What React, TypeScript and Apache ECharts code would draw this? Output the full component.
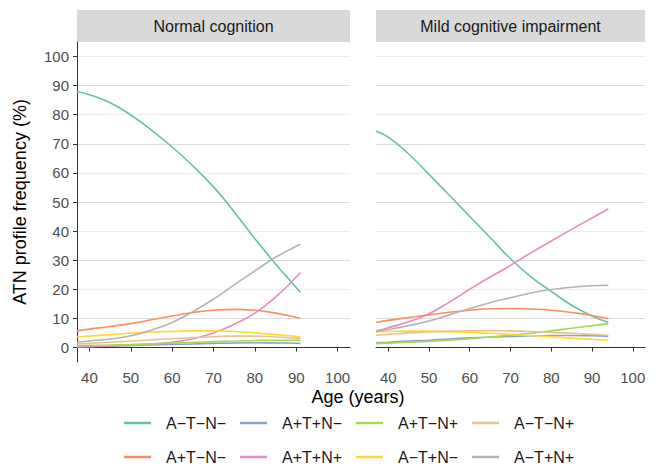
import React, { useEffect, useRef } from "react";
import * as echarts from "echarts";

const panelTitles = ["Normal cognition", "Mild cognitive impairment"];
const profiles = ["A−T−N−", "A+T−N−", "A+T+N−", "A+T+N+", "A+T−N+", "A−T+N−", "A−T−N+", "A−T+N+"];
const colors = ["#66C2A5", "#FC8D62", "#8DA0CB", "#E78AC3", "#A6D854", "#FFD92F", "#E5C494", "#B3B3B3"];
const legendRow1 = ["A−T−N−", "A+T+N−", "A+T−N+", "A−T−N+"];
const legendRow2 = ["A+T−N−", "A+T+N+", "A−T+N−", "A−T+N+"];
const xTicks = [40, 50, 60, 70, 80, 90, 100];
const yTicks = [0, 10, 20, 30, 40, 50, 60, 70, 80, 90, 100];

// Normal cognition
const agesNC = [37, 40, 45, 50, 55, 60, 65, 70, 75, 80, 85, 90, 91];
const nc_ATmNm = [88, 86.9, 84.1, 79.9, 74.7, 68.9, 62.4, 55.2, 46.6, 37.4, 28.7, 20.6, 19.0];
const nc_ApTmNm = [5.7, 6.3, 7.2, 8.2, 9.5, 10.8, 12.0, 12.8, 13.1, 12.8, 11.8, 10.4, 10.0];
const nc_ApTpNm = [0.3, 0.4, 0.5, 0.7, 0.85, 1.0, 1.2, 1.4, 1.55, 1.6, 1.55, 1.45, 1.4];
const nc_ApTpNp = [0.2, 0.3, 0.5, 0.8, 1.2, 1.8, 3.0, 5.0, 8.0, 11.8, 17.3, 24.2, 25.8];
const nc_ApTmNp = [0.6, 0.7, 0.85, 1.0, 1.25, 1.5, 1.75, 2.0, 2.2, 2.4, 2.5, 2.5, 2.5];
const nc_AmTpNm = [3.6, 3.9, 4.4, 4.9, 5.3, 5.5, 5.7, 5.7, 5.5, 5.0, 4.4, 3.8, 3.7];
const nc_AmTmNp = [1.2, 1.4, 1.8, 2.2, 2.6, 3.0, 3.4, 3.7, 3.9, 3.9, 3.6, 3.2, 3.1];
const nc_AmTpNp = [1.8, 2.2, 2.9, 4.0, 6.0, 8.6, 12.3, 16.6, 21.5, 26.3, 31.0, 34.8, 35.5];

// Mild cognitive impairment
const agesMCI = [37, 40, 45, 50, 55, 60, 65, 70, 75, 80, 85, 90, 94];
const mci_ATmNm = [74.3, 72.3, 66.5, 59.5, 52.3, 45.0, 37.8, 30.5, 24.3, 19.3, 14.5, 10.8, 8.6];
const mci_ApTmNm = [8.6, 9.3, 10.3, 11.2, 12.1, 12.8, 13.3, 13.4, 13.2, 12.8, 12.0, 11.0, 9.9];
const mci_ApTpNm = [1.6, 1.8, 2.2, 2.5, 2.9, 3.3, 3.6, 3.8, 4.0, 4.1, 4.1, 4.0, 3.9];
const mci_ApTpNp = [5.7, 6.8, 8.8, 11.6, 15.6, 20.0, 24.2, 28.2, 32.5, 36.6, 40.6, 44.5, 47.6];
const mci_ApTmNp = [1.3, 1.5, 1.8, 2.1, 2.5, 3.0, 3.6, 4.2, 4.9, 5.7, 6.6, 7.5, 8.2];
const mci_AmTpNm = [5.4, 5.5, 5.6, 5.6, 5.4, 5.2, 4.9, 4.5, 4.1, 3.7, 3.2, 2.8, 2.5];
const mci_AmTmNp = [4.2, 4.5, 5.0, 5.3, 5.6, 5.7, 5.8, 5.7, 5.5, 5.2, 4.9, 4.5, 4.2];
const mci_AmTpNp = [5.5, 6.2, 7.5, 9.1, 11.2, 13.4, 15.4, 17.1, 18.7, 19.9, 20.7, 21.2, 21.4];

const ncValues = [nc_ATmNm, nc_ApTmNm, nc_ApTpNm, nc_ApTpNp, nc_ApTmNp, nc_AmTpNm, nc_AmTmNp, nc_AmTpNp];
const mciValues = [mci_ATmNm, mci_ApTmNm, mci_ApTpNm, mci_ApTpNp, mci_ApTmNp, mci_AmTpNm, mci_AmTmNp, mci_AmTpNp];

const FONT = "'Liberation Sans', Arial, Helvetica, sans-serif";
const MAJOR = "#DCDCDC";
const MINOR = "#EDEDED";
const AXIS = "#333333";

export default function App() {
  const ref = useRef<HTMLDivElement>(null);
  useEffect(() => {
    if (!ref.current) return;
    const chart = echarts.init(ref.current, undefined, { renderer: "svg" });

    const gridCols: string[] = [];
    for (let v = -5; v <= 105; v += 5) gridCols.push(v % 10 === 0 ? MAJOR : MINOR);

    const makeX = (gridIndex: number) => ({
      type: "value",
      gridIndex,
      min: 37,
      max: 103,
      axisLine: { show: true, lineStyle: { color: AXIS, width: 1 } },
      axisTick: { show: true, length: 4, customValues: xTicks, lineStyle: { color: AXIS } },
      axisLabel: { customValues: xTicks, color: "#4D4D4D", fontSize: 15, fontFamily: FONT, margin: 8 },
      splitLine: { show: false },
    });
    const makeY = (gridIndex: number, showAxis: boolean) => ({
      type: "value",
      gridIndex,
      min: -5,
      max: 105,
      interval: 5,
      axisLine: { show: showAxis, lineStyle: { color: AXIS, width: 1 } },
      axisTick: { show: showAxis, length: 4, customValues: yTicks, lineStyle: { color: AXIS } },
      axisLabel: { show: showAxis, customValues: yTicks, color: "#4D4D4D", fontSize: 15, fontFamily: FONT, margin: 8 },
      splitLine: { show: true, showMinLine: true, showMaxLine: true, lineStyle: { color: gridCols, width: 1 } },
      ...(showAxis
        ? {
            name: "ATN profile frequency (%)",
            nameLocation: "middle",
            nameGap: 48,
            nameTextStyle: { fontSize: 18, color: "#000", fontFamily: FONT },
          }
        : {}),
    });

    const series: any[] = [];
    [ncValues, mciValues].forEach((vals, gi) => {
      const ages = gi === 0 ? agesNC : agesMCI;
      vals.forEach((arr, si) => {
        series.push({
          type: "line",
          name: profiles[si],
          xAxisIndex: gi,
          yAxisIndex: gi,
          data: ages.map((a, i) => [a, arr[i]]),
          smooth: 0.5,
          showSymbol: false,
          lineStyle: { color: colors[si], width: 1.6 },
          itemStyle: { color: colors[si] },
          z: 2 + si,
        });
      });
    });

    const legendCommon = {
      orient: "horizontal",
      icon: "rect",
      padding: 0,
      itemWidth: 27,
      itemHeight: 2.5,
      itemGap: 14,
      textStyle: { fontSize: 16, lineHeight: 16, color: "#1A1A1A", fontFamily: FONT, padding: [0, 0, 0, 10] },
      selectedMode: true,
    };

    const option: any = {
      animation: false,
      backgroundColor: "#FFFFFF",
      textStyle: { fontFamily: FONT },
      grid: [
        { left: 77, top: 42, width: 273, height: 320 },
        { left: 376, top: 42, width: 269, height: 320 },
      ],
      xAxis: [makeX(0), makeX(1)],
      yAxis: [makeY(0, true), makeY(1, false)],
      legend: [
        { ...legendCommon, left: 124, top: 415, data: legendRow1 },
        { ...legendCommon, left: 124, top: 449, data: legendRow2 },
      ],
      graphic: [
        { type: "rect", left: 77, top: 10, shape: { width: 273, height: 32 }, style: { fill: "#D9D9D9" }, silent: true },
        { type: "rect", left: 376, top: 10, shape: { width: 269, height: 32 }, style: { fill: "#D9D9D9" }, silent: true },
        {
          type: "text",
          x: 213.5,
          y: 26,
          style: { text: panelTitles[0], fill: "#1A1A1A", fontSize: 16, fontFamily: FONT, align: "center", verticalAlign: "middle" },
        },
        {
          type: "text",
          x: 510.5,
          y: 26,
          style: { text: panelTitles[1], fill: "#1A1A1A", fontSize: 16, fontFamily: FONT, align: "center", verticalAlign: "middle" },
        },
        {
          type: "text",
          x: 358,
          y: 397,
          style: { text: "Age (years)", fill: "#000", fontSize: 18, fontFamily: FONT, align: "center", verticalAlign: "middle" },
        },
      ],
      series,
    };
    chart.setOption(option);
    return () => chart.dispose();
  }, []);
  return <div ref={ref} style={{ position: "fixed", left: 0, top: 0, width: 658, height: 467 }} />;
}
